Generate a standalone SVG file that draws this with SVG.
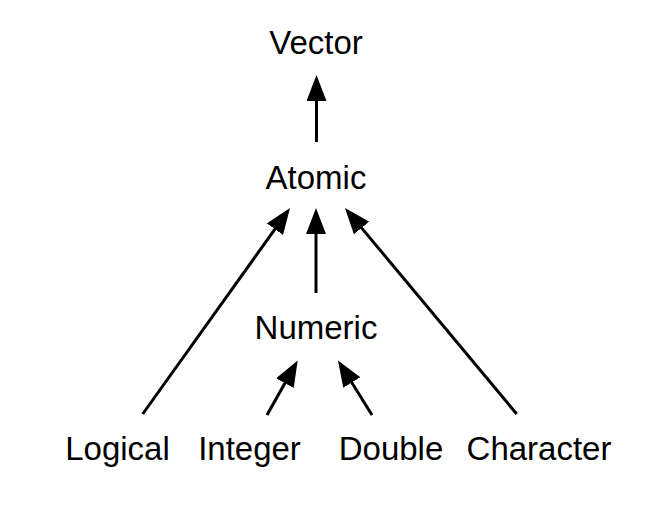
<svg xmlns="http://www.w3.org/2000/svg" width="672" height="518" viewBox="0 0 672 518">
<style>
.lbl{font-family:"Liberation Sans",Arial,Helvetica,sans-serif;font-size:33px;fill:#000;text-anchor:middle}
.edge{stroke:#000;stroke-width:3;fill:none;marker-end:url(#ah)}
</style>
<defs>
<marker id="ah" viewBox="0 0 26 20" refX="5" refY="10" markerWidth="26" markerHeight="20" markerUnits="userSpaceOnUse" orient="auto">
<path d="M0,0 L26,10 L0,20 z" fill="#000"/>
</marker>
</defs>
<rect width="672" height="518" fill="#fff"/>
<g id="connectors">
<path class="edge" d="M316.5,142 L316.5,96"/>
<path class="edge" d="M316,293 L316,229"/>
<path class="edge" d="M142.7,414 L277.8,225.1"/>
<path class="edge" d="M516.7,414 L358.4,224.1"/>
<path class="edge" d="M267,415 L287.4,378.8"/>
<path class="edge" d="M372,415 L349.1,378.3"/>
</g>
<g id="vector"><text class="lbl" x="316" y="54">Vector</text></g>
<g id="atomic"><text class="lbl" x="316" y="189">Atomic</text></g>
<g id="numeric"><text class="lbl" x="316" y="339">Numeric</text></g>
<g id="logical"><text class="lbl" x="117.5" y="460">Logical</text></g>
<g id="integer"><text class="lbl" x="249.5" y="460">Integer</text></g>
<g id="double"><text class="lbl" x="391" y="460">Double</text></g>
<g id="character"><text class="lbl" x="539" y="460">Character</text></g>
</svg>
